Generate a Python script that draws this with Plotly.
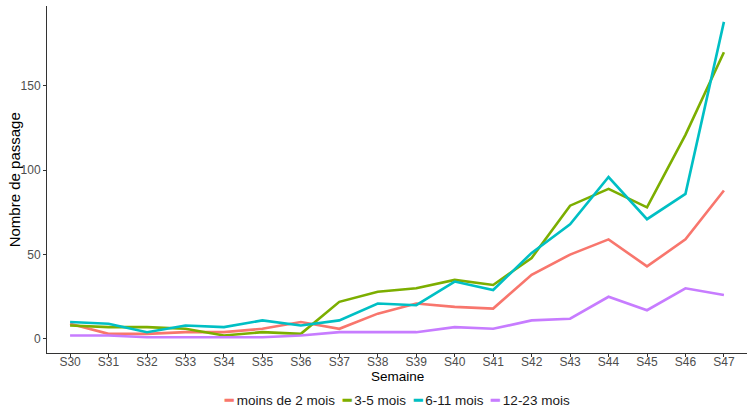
import plotly.graph_objects as go

weeks = ["S30","S31","S32","S33","S34","S35","S36","S37","S38","S39","S40","S41","S42","S43","S44","S45","S46","S47"]
series_names = ["moins de 2 mois", "3-5 mois", "6-11 mois", "12-23 mois"]
moins_2 = [9, 3, 3, 4, 4, 6, 10, 6, 15, 21, 19, 18, 38, 50, 59, 43, 59, 88]
m3_5 = [8, 7, 7, 6, 2, 4, 3, 22, 28, 30, 35, 32, 48, 79, 89, 78, 121, 170]
m6_11 = [10, 9, 4, 8, 7, 11, 8, 11, 21, 20, 34, 29, 51, 68, 96, 71, 86, 188]
m12_23 = [2, 2, 1, 1, 1, 1, 2, 4, 4, 4, 7, 6, 11, 12, 25, 17, 30, 26]
y_ticks = [0, 50, 100, 150]

colors = ["#F8766D", "#7CAE00", "#00BFC4", "#C77CFF"]
data = [moins_2, m3_5, m6_11, m12_23]

font = "Liberation Sans, Arial, sans-serif"

fig = go.Figure()
for name, vals, c in zip(series_names, data, colors):
    fig.add_trace(go.Scatter(x=weeks, y=vals, mode="lines", name=name,
                             line=dict(color=c, width=2.6), showlegend=False))

# ggplot-style bottom legend: short coloured key + label
items = [f"<span style='color:{c}'><b>\u2501</b></span>\u00a0{name}" for name, c in zip(series_names, colors)]
legend_text = "\u00a0\u00a0".join(items)
fig.add_annotation(text=legend_text, xref="paper", yref="paper", x=0.5, y=-0.138,
                   xanchor="center", yanchor="middle", showarrow=False, borderpad=0,
                   font=dict(size=13.5, color="#1a1a1a", family=font))
# axis titles
fig.add_annotation(text="Semaine", xref="paper", yref="paper", x=0.5, y=-0.069,
                   xanchor="center", yanchor="middle", showarrow=False, borderpad=0,
                   font=dict(size=13.5, color="black", family=font))
fig.add_annotation(text="Nombre de passage", xref="paper", yref="paper", x=-0.046, y=0.5,
                   xanchor="center", yanchor="middle", showarrow=False, textangle=-90,
                   borderpad=0, font=dict(size=15, color="black", family=font))

fig.update_layout(
    width=755, height=410,
    margin=dict(l=47, r=8, t=6, b=57),
    paper_bgcolor="white", plot_bgcolor="white",
    font=dict(family=font),
    showlegend=False,
    xaxis=dict(type="category", categoryorder="array", categoryarray=weeks,
               range=[-0.6, 17.6], showgrid=False, zeroline=False, automargin=False,
               showline=True, linecolor="#333333", linewidth=1,
               ticks="outside", ticklen=3, tickcolor="#333333", ticklabelstandoff=-5,
               tickfont=dict(size=12, color="#4d4d4d")),
    yaxis=dict(range=[-8.35, 197.4], tickvals=y_ticks, showgrid=False, zeroline=False,
               automargin=False,
               showline=True, linecolor="#333333", linewidth=1,
               ticks="outside", ticklen=3, tickcolor="#333333",
               tickfont=dict(size=12, color="#4d4d4d")),
)
fig.write_html("out.html", config={"displayModeBar": False},
               post_script="document.body.style.margin='0';")
